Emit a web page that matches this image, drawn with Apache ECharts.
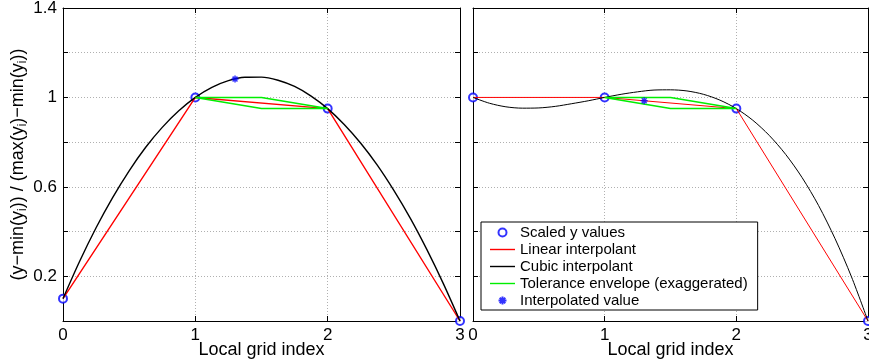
<!DOCTYPE html>
<html>
<head>
<meta charset="utf-8">
<style>
  html, body { margin: 0; padding: 0; background: #fff; }
  #chart { width: 869px; height: 360px; }
</style>
<script src="https://cdn.jsdelivr.net/npm/echarts@6/dist/echarts.min.js"></script>
</head>
<body>
<div id="chart"></div>
<script>
// grid points and scaled values
const gridX = [0, 1, 2, 3];
const leftScaled = [0.1, 1, 0.95, 0];
const rightScaled = [1, 1, 0.95, 0];

// cubic interpolant
const cubicX = [0, 0.125, 0.25, 0.375, 0.5, 0.625, 0.75, 0.875, 1, 1.125, 1.25, 1.375, 1.5,
  1.625, 1.75, 1.875, 2, 2.125, 2.25, 2.375, 2.5, 2.625, 2.75, 2.875, 3];
const leftCubic = [0.1, 0.266, 0.417, 0.552, 0.672, 0.777, 0.866, 0.940, 1, 1.045, 1.075, 1.090, 1.091,
  1.077, 1.049, 1.006, 0.95, 0.879, 0.795, 0.697, 0.584, 0.459, 0.319, 0.166, 0];
const rightCubic = [1, 0.974, 0.958, 0.952, 0.953, 0.960, 0.972, 0.985, 1, 1.014, 1.025, 1.033, 1.034,
  1.029, 1.014, 0.988, 0.95, 0.898, 0.83, 0.745, 0.641, 0.516, 0.368, 0.197, 0];

// tolerance envelope (closed outline)
const envX = [1, 1.5, 2, 1.5, 1];
const leftEnv = [1, 1, 0.95, 0.95, 1];
const rightEnv = [1, 1, 0.95, 0.95, 1];

// interpolated value
const interpX = [1.3];
const leftInterp = [1.082];
const rightInterp = [0.985];

const yTicks = [0.2, 0.6, 1, 1.4];
const names = ["Scaled y values", "Linear interpolant", "Cubic interpolant",
  "Tolerance envelope (exaggerated)", "Interpolated value"];

const FONT = "Liberation Sans, Arial, Helvetica, sans-serif";
const asterisk = "path://M0,5L10,5M5,0L5,10M1.5,1.5L8.5,8.5M1.5,8.5L8.5,1.5";
const lineIcon = "path://M0,0L25,0L25,1.4L0,1.4Z";

function zip(xs, ys) {
  return xs.map((x, i) => [x, ys[i]]);
}

function xAx(gridIndex, pos, main) {
  return {
    type: "value", gridIndex: gridIndex, position: pos,
    min: 0, max: 3, interval: 1,
    axisLine: { onZero: false, lineStyle: { color: "#000", width: 1 } },
    axisTick: { inside: true, length: 5, lineStyle: { color: "#000" } },
    axisLabel: { show: main, color: "#000", fontSize: 17, fontFamily: FONT, margin: 6 },
    splitLine: { show: main, lineStyle: { color: "#b0b0b0", type: [1, 2] } },
    name: main ? "Local grid index" : "",
    nameLocation: "middle", nameGap: 20, nameMoveOverlap: false,
    nameTextStyle: { color: "#000", fontSize: 18, fontFamily: FONT }
  };
}

function yAx(gridIndex, pos, main, labels) {
  return {
    type: "value", gridIndex: gridIndex, position: pos,
    min: 0, max: 1.4, interval: 0.2,
    axisLine: { onZero: false, lineStyle: { color: "#000", width: 1 } },
    axisTick: { inside: true, length: 5, lineStyle: { color: "#000" } },
    axisLabel: {
      show: labels, color: "#000", fontSize: 17, fontFamily: FONT, margin: 6,
      formatter: function (v) {
        return yTicks.some(t => Math.abs(t - v) < 1e-6) ? String(+v.toFixed(1)) : "";
      }
    },
    splitLine: { show: main, lineStyle: { color: "#b0b0b0", type: [1, 2] } },
    name: labels ? "(y\u2212min(y{s|i})) / (max(y{s|i})\u2212min(y{s|i}))" : "",
    nameLocation: "middle", nameGap: 34, nameMoveOverlap: false,
    nameTextStyle: {
      color: "#000", fontSize: 18, fontFamily: FONT,
      rich: { s: { fontSize: 12, fontFamily: FONT, color: "#000", verticalAlign: "bottom", padding: [9, 0, 0, 0] } }
    }
  };
}

function panelSeries(xi, yi, scaled, cubic, env, interp, lw) {
  return [
    {
      name: names[0], type: "scatter", xAxisIndex: xi, yAxisIndex: yi,
      data: zip(gridX, scaled), symbol: "emptyCircle", symbolSize: 8, z: 3,
      itemStyle: { color: "#0000ff", borderColor: "#0000ff", borderWidth: 1 }
    },
    {
      name: names[1], type: "line", xAxisIndex: xi, yAxisIndex: yi,
      data: zip(gridX, scaled), symbol: "none", z: 4,
      lineStyle: { color: "#ff0000", width: lw }, itemStyle: { color: "#ff0000" }
    },
    {
      name: names[2], type: "line", xAxisIndex: xi, yAxisIndex: yi,
      data: zip(cubicX, cubic), symbol: "none", smooth: 0.3, z: 5,
      lineStyle: { color: "#000000", width: lw }, itemStyle: { color: "#000000" }
    },
    {
      name: names[3], type: "line", xAxisIndex: xi, yAxisIndex: yi,
      data: zip(envX, env), symbol: "none", z: 6,
      lineStyle: { color: "#00ee00", width: 1.5 }, itemStyle: { color: "#00ee00" }
    },
    {
      name: names[4], type: "scatter", xAxisIndex: xi, yAxisIndex: yi,
      data: zip(interpX, interp), symbol: asterisk, symbolSize: 7, symbolKeepAspect: true, z: 7,
      itemStyle: { color: "none", borderColor: "#0000ff", borderWidth: 1.5 }
    }
  ];
}

const chart = echarts.init(document.getElementById("chart"), null, { renderer: "canvas" });

const option = {
  animation: false,
  backgroundColor: "#fff",
  textStyle: { fontFamily: FONT },
  grid: [
    { left: 63, right: 409, top: 8, bottom: 39, outerBoundsMode: "none", containLabel: false },
    { left: 473, right: 1, top: 8, bottom: 39, outerBoundsMode: "none", containLabel: false }
  ],
  xAxis: [
    xAx(0, "bottom", true), xAx(0, "top", false),
    xAx(1, "bottom", true), xAx(1, "top", false)
  ],
  yAxis: [
    yAx(0, "left", true, true), yAx(0, "right", false, false),
    yAx(1, "left", true, false), yAx(1, "right", false, false)
  ],
  legend: {
    orient: "vertical", left: 481, top: 222,
    data: [
      { name: names[0] },
      { name: names[1], icon: lineIcon },
      { name: names[2], icon: lineIcon },
      { name: names[3], icon: lineIcon },
      { name: names[4] }
    ],
    backgroundColor: "#fff", borderColor: "#000", borderWidth: 1, borderRadius: 0,
    padding: [3, 10, 2, 9],
    itemWidth: 25, itemHeight: 8, itemGap: 2,
    symbolKeepAspect: true,
    textStyle: { color: "#000", fontSize: 15, fontFamily: FONT, lineHeight: 15 },
    selectedMode: false
  },
  series: [].concat(
    panelSeries(0, 0, leftScaled, leftCubic, leftEnv, leftInterp, 1.4),
    panelSeries(2, 2, rightScaled, rightCubic, rightEnv, rightInterp, 1)
  )
};

chart.setOption(option);
</script>
</body>
</html>
